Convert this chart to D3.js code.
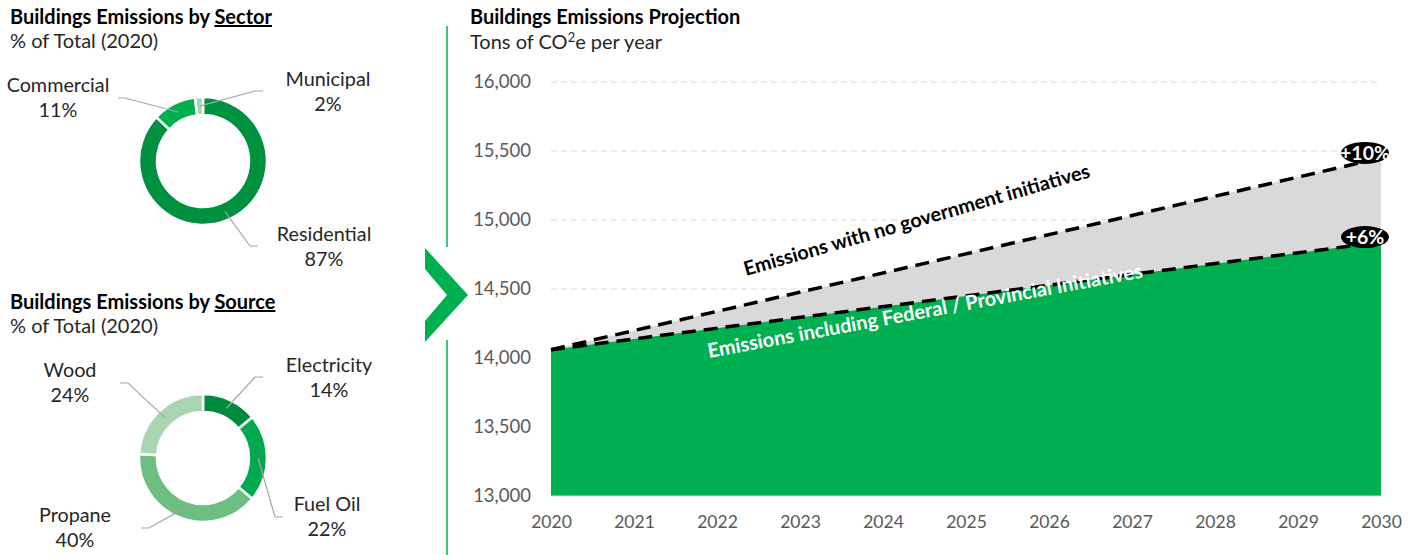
<!DOCTYPE html>
<html>
<head>
<meta charset="utf-8">
<script src="https://cdn.jsdelivr.net/npm/d3@7"></script>
<style>
  body { margin: 0; background: #fff; }
  svg { display: block; font-family: Lato, "Open Sans", sans-serif; }
</style>
</head>
<body>
<svg id="chart" width="1419" height="555"></svg>
<script>
// ---- data ----
const sectorNames = ["Residential", "Commercial", "Municipal"];
const sectorShares = [87, 11, 2];
const sourceNames = ["Electricity", "Fuel Oil", "Propane", "Wood"];
const sourceShares = [14, 22, 40, 24];

const years = [2020, 2021, 2022, 2023, 2024, 2025, 2026, 2027, 2028, 2029, 2030];
const yTicks = [13000, 13500, 14000, 14500, 15000, 15500, 16000];
const projectionYears = [2020, 2030];
const noInitiatives = [14060, 15450];   // emissions with no government initiatives
const withInitiatives = [14060, 14840]; // emissions incl. federal / provincial initiatives

// ---- setup ----
const svg = d3.select("#chart");
const GREEN = "#00b050";
const TEXT = "#262626";

// ---- donut helper ----
function donut(cx, cy, names, shares, colors, leaders) {
  const g = svg.append("g").attr("transform", `translate(${cx},${cy})`);
  const rOuter = 64, rInner = 46;
  const pie = d3.pie().sort(null).value(d => d.v);
  const arcs = pie(names.map((n, i) => ({ n, v: shares[i] })));
  const arc = d3.arc().innerRadius(rInner).outerRadius(rOuter);
  g.selectAll("path.slice").data(arcs).join("path")
    .attr("class", "slice")
    .attr("d", arc)
    .attr("fill", (d, i) => colors[i])
    .attr("stroke", "#fff")
    .attr("stroke-width", 2.5);

  arcs.forEach((a, i) => {
    const L = leaders[i];
    const mid = (a.startAngle + a.endAngle) / 2;
    const rm = (rInner + rOuter) / 2;
    const px = cx + rm * Math.sin(mid), py = cy - rm * Math.cos(mid);
    svg.append("polyline")
      .attr("points", `${px},${py} ${L.ex},${L.ey} ${L.tx},${L.ey}`)
      .attr("fill", "none").attr("stroke", "#a6a6a6").attr("stroke-width", 1.2);
    const t = svg.append("text").attr("text-anchor", "middle")
      .attr("fill", TEXT).attr("font-size", 19.8);
    t.append("tspan").attr("x", L.lx).attr("y", L.ly).text(a.data.n);
    t.append("tspan").attr("x", L.lx).attr("y", L.ly + 25).text(a.data.v + "%");
  });
}

// ---- left titles ----
function title(x, y, main, under, sub) {
  const t = svg.append("text").attr("x", x).attr("y", y)
    .attr("font-weight", 700).attr("font-size", 20).attr("fill", "#000");
  t.append("tspan").text(main);
  if (under) t.append("tspan").style("text-decoration", "underline").text(under);
  svg.append("text").attr("x", x).attr("y", y + 24)
    .attr("font-size", 20).attr("fill", TEXT).text(sub);
}

title(10, 24, "Buildings Emissions by ", "Sector", "% of Total (2020)");
title(10, 309, "Buildings Emissions by ", "Source", "% of Total (2020)");

donut(203, 161, sectorNames, sectorShares,
  ["#009140", "#00b050", "#a9d6b2"],
  [
    { ex: 250, ey: 246, tx: 258, lx: 324, ly: 241 },
    { ex: 125, ey: 98, tx: 118, lx: 58, ly: 92 },
    { ex: 255, ey: 91, tx: 263, lx: 328, ly: 86 }
  ]);

donut(203, 458, sourceNames, sourceShares,
  ["#008a3e", "#00a84f", "#6cbf80", "#a9d5b1"],
  [
    { ex: 255, ey: 377, tx: 263, lx: 329, ly: 372 },
    { ex: 275, ey: 517, tx: 283, lx: 327, ly: 511 },
    { ex: 149, ey: 528, tx: 141, lx: 75, ly: 522 },
    { ex: 128, ey: 383, tx: 120, lx: 70, ly: 377 }
  ]);

// ---- divider with chevron ----
svg.append("line").attr("x1", 447).attr("x2", 447).attr("y1", 26).attr("y2", 247)
  .attr("stroke", GREEN).attr("stroke-width", 1.5);
svg.append("line").attr("x1", 447).attr("x2", 447).attr("y1", 340).attr("y2", 555)
  .attr("stroke", GREEN).attr("stroke-width", 1.5);
svg.append("polygon")
  .attr("points", "425,248 468,295 425,342 425,321 447,295 425,269")
  .attr("fill", GREEN);

// ---- projection chart ----
svg.append("text").attr("x", 470).attr("y", 24)
  .attr("font-weight", 700).attr("font-size", 20).attr("fill", "#000")
  .text("Buildings Emissions Projection");
const unit = svg.append("text").attr("x", 470).attr("y", 49)
  .attr("font-size", 20).attr("fill", TEXT);
unit.append("tspan").text("Tons of CO");
unit.append("tspan").attr("font-size", 13).attr("dy", -7).text("2");
unit.append("tspan").attr("dy", 7).text("e per year");

const x = d3.scaleLinear().domain([2020, 2030]).range([551, 1381]);
const y = d3.scaleLinear().domain([13000, 16000]).range([496, 82]);

// gridlines
svg.append("g").selectAll("line").data(yTicks.slice(1)).join("line")
  .attr("x1", 551).attr("x2", 1381)
  .attr("y1", d => y(d)).attr("y2", d => y(d))
  .attr("stroke", "#d9d9d9").attr("stroke-width", 1).attr("stroke-dasharray", "6,4");

const pts = projectionYears.map((yr, i) => ({ yr, hi: noInitiatives[i], lo: withInitiatives[i] }));

// gap between the two scenarios
svg.append("path").datum(pts)
  .attr("d", d3.area().x(d => x(d.yr)).y0(d => y(d.lo)).y1(d => y(d.hi)))
  .attr("fill", "#d9d9d9");

// emissions incl. initiatives
svg.append("path").datum(pts)
  .attr("d", d3.area().x(d => x(d.yr)).y0(y(13000)).y1(d => y(d.lo)))
  .attr("fill", GREEN);

// base axis line
svg.append("line").attr("x1", 551).attr("x2", 1381).attr("y1", y(13000)).attr("y2", y(13000))
  .attr("stroke", "#d9d9d9").attr("stroke-width", 1);

// dashed scenario lines
[d => d.hi, d => d.lo].forEach(acc => {
  svg.append("path").datum(pts)
    .attr("d", d3.line().x(d => x(d.yr)).y(d => y(acc(d))))
    .attr("fill", "none").attr("stroke", "#000")
    .attr("stroke-width", 3.5).attr("stroke-dasharray", "14,8");
});

// y axis labels
const yAxis = d3.axisLeft(y).tickValues(yTicks).tickFormat(d3.format(",")).tickSize(0).tickPadding(0);
const ya = svg.append("g").attr("transform", "translate(531,0)").call(yAxis);
ya.select(".domain").remove();
ya.selectAll("text").attr("font-family", "Lato, 'Open Sans', sans-serif")
  .attr("font-size", 18.5).attr("fill", "#595959");

// x axis labels
const xAxis = d3.axisBottom(x).tickValues(years).tickFormat(d3.format("d")).tickSize(0).tickPadding(0);
const xa = svg.append("g").attr("transform", "translate(0,516)").call(xAxis);
xa.select(".domain").remove();
xa.selectAll("text").attr("font-family", "Lato, 'Open Sans', sans-serif")
  .attr("font-size", 17.5).attr("fill", "#595959");

// end-of-line change badges
const last = pts[pts.length - 1], first = pts[0];
const changes = [
  { v: last.hi, pct: Math.round((last.hi / first.hi - 1) * 100) },
  { v: last.lo, pct: Math.round((last.lo / first.lo - 1) * 100) }
];
changes.forEach(c => {
  const cx = x(2030) - 16, cy = y(c.v) - 5;
  svg.append("ellipse").attr("cx", cx).attr("cy", cy).attr("rx", 24).attr("ry", 11).attr("fill", "#000");
  svg.append("text").attr("x", cx).attr("y", cy + 7).attr("text-anchor", "middle")
    .attr("fill", "#fff").attr("font-weight", 700).attr("font-size", 19.5).text("+" + c.pct + "%");
});

// rotated scenario captions
svg.append("text").attr("transform", "translate(746,276) rotate(-16)")
  .attr("font-weight", 700).attr("font-size", 19.8).attr("fill", "#000")
  .text("Emissions with no government initiatives");
svg.append("text").attr("transform", "translate(709,358) rotate(-10.5)")
  .attr("font-weight", 700).attr("font-size", 20).attr("fill", "#fff")
  .text("Emissions including Federal / Provincial Initiatives");
</script>
</body>
</html>
